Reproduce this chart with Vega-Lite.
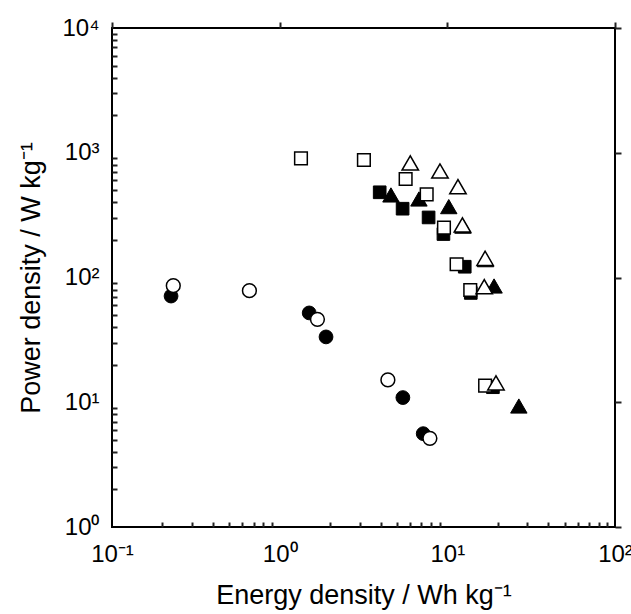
{
  "$schema": "https://vega.github.io/schema/vega-lite/v6.json",
  "width": 503,
  "height": 499,
  "autosize": "none",
  "padding": {"left": 112, "top": 28, "right": 16, "bottom": 87},
  "background": "white",
  "config": {
    "view": {"stroke": "black", "strokeWidth": 2},
    "font": "Liberation Sans",
    "axis": {
      "grid": false,
      "domain": false,
      "labelColor": "black",
      "labelFont": "Liberation Sans",
      "labelFontSize": 24,
      "labelOverlap": false,
      "labelFlush": false,
      "labelBound": false,
      "titleColor": "black",
      "titleFont": "Liberation Sans",
      "titleFontSize": 27,
      "titleFontWeight": "normal"
    }
  },
  "data": {
    "values": [
      {"series": "S1", "energy": 0.225, "power": 71},
      {"series": "S1", "energy": 1.50, "power": 52},
      {"series": "S1", "energy": 1.89, "power": 33.4},
      {"series": "S1", "energy": 5.43, "power": 10.9},
      {"series": "S1", "energy": 7.18, "power": 5.6},
      {"series": "S2", "energy": 0.232, "power": 86},
      {"series": "S2", "energy": 0.66, "power": 78.4},
      {"series": "S2", "energy": 1.68, "power": 46.2},
      {"series": "S2", "energy": 4.42, "power": 15.1},
      {"series": "S2", "energy": 7.87, "power": 5.14},
      {"series": "S3", "energy": 3.95, "power": 482},
      {"series": "S3", "energy": 5.41, "power": 356},
      {"series": "S3", "energy": 7.73, "power": 303},
      {"series": "S3", "energy": 9.48, "power": 223},
      {"series": "S3", "energy": 12.7, "power": 122},
      {"series": "S3", "energy": 13.8, "power": 75.2},
      {"series": "S3", "energy": 18.7, "power": 13.2},
      {"series": "S4", "energy": 1.34, "power": 902},
      {"series": "S4", "energy": 3.18, "power": 875},
      {"series": "S4", "energy": 5.64, "power": 616},
      {"series": "S4", "energy": 7.53, "power": 464},
      {"series": "S4", "energy": 9.55, "power": 251},
      {"series": "S4", "energy": 11.36, "power": 127.6},
      {"series": "S4", "energy": 13.7, "power": 79.4},
      {"series": "S4", "energy": 16.8, "power": 13.6},
      {"series": "S5", "energy": 4.61, "power": 459},
      {"series": "S5", "energy": 6.77, "power": 426},
      {"series": "S5", "energy": 10.2, "power": 370},
      {"series": "S5", "energy": 12.4, "power": 258},
      {"series": "S5", "energy": 16.9, "power": 139},
      {"series": "S5", "energy": 19.0, "power": 85.5},
      {"series": "S5", "energy": 26.7, "power": 9.33},
      {"series": "S6", "energy": 6.01, "power": 828},
      {"series": "S6", "energy": 9.04, "power": 714},
      {"series": "S6", "energy": 11.57, "power": 535},
      {"series": "S6", "energy": 12.3, "power": 264},
      {"series": "S6", "energy": 16.8, "power": 142.6},
      {"series": "S6", "energy": 16.6, "power": 84.4},
      {"series": "S6", "energy": 19.5, "power": 14.3}
    ]
  },
  "layer": [
    {
      "transform": [{"filter": "datum.series === 'S3'"}],
      "mark": {"type": "point", "shape": "square", "filled": true, "fill": "black", "stroke": "black", "strokeWidth": 1, "size": 160, "opacity": 1},
      "encoding": {
        "x": {
          "field": "energy", "type": "quantitative",
          "scale": {"type": "log", "domain": [0.1, 100], "nice": false},
          "axis": {
            "orient": "bottom",
            "values": [0.1, 1, 10, 100],
            "labelExpr": "datum.value === 0.1 ? '10⁻¹' : datum.value === 1 ? '10⁰' : datum.value === 10 ? '10¹' : '10²'",
            "ticks": false,
            "labelPadding": 15,
            "title": "Energy density / Wh kg⁻¹",
            "titlePadding": 16
          }
        },
        "y": {
          "field": "power", "type": "quantitative",
          "scale": {"type": "log", "domain": [1, 10000], "nice": false},
          "axis": {
            "orient": "left",
            "values": [1, 10, 100, 1000, 10000],
            "labelExpr": "datum.value === 1 ? '10⁰' : datum.value === 10 ? '10¹' : datum.value === 100 ? '10²' : datum.value === 1000 ? '10³' : '10⁴'",
            "ticks": false,
            "labelPadding": 13,
            "title": "Power density / W kg⁻¹",
            "titlePadding": 16
          }
        }
      }
    },
    {
      "transform": [{"filter": "datum.series === 'S5'"}],
      "mark": {"type": "point", "shape": "triangle-up", "filled": true, "fill": "black", "stroke": "black", "strokeWidth": 1, "size": 270, "opacity": 1},
      "encoding": {
        "x": {
          "field": "energy", "type": "quantitative",
          "axis": {"orient": "top", "values": [0.1, 1, 10, 100], "labels": false, "title": null, "ticks": true, "tickSize": 6, "tickColor": "#222222", "tickWidth": 2}
        },
        "y": {
          "field": "power", "type": "quantitative",
          "axis": {"orient": "right", "values": [1, 10, 100, 1000, 10000], "labels": false, "title": null, "ticks": true, "tickSize": 6, "tickColor": "#222222", "tickWidth": 2}
        }
      }
    },
    {
      "transform": [{"filter": "datum.series === 'S1'"}],
      "mark": {"type": "point", "shape": "circle", "filled": true, "fill": "black", "stroke": "black", "strokeWidth": 1, "size": 190, "opacity": 1},
      "encoding": {
        "x": {
          "field": "energy", "type": "quantitative",
          "axis": {"orient": "top", "offset": -499, "values": [0.2,0.3,0.4,0.5,0.6,0.7,0.8,0.9,2,3,4,5,6,7,8,9,20,30,40,50,60,70,80,90], "labels": false, "title": null, "ticks": true, "tickSize": 5, "tickColor": "#222222", "tickWidth": 2}
        },
        "y": {
          "field": "power", "type": "quantitative",
          "axis": {"orient": "right", "offset": -503, "values": [2,3,4,5,6,7,8,9,20,30,40,50,60,70,80,90,200,300,400,500,600,700,800,900,2000,3000,4000,5000,6000,7000,8000,9000], "labels": false, "title": null, "ticks": true, "tickSize": 5, "tickColor": "#222222", "tickWidth": 2}
        }
      }
    },
    {
      "transform": [{"filter": "datum.series === 'S4'"}],
      "mark": {"type": "point", "shape": "square", "filled": true, "fill": "white", "stroke": "black", "strokeWidth": 1.5, "size": 160, "opacity": 1},
      "encoding": {
        "x": {"field": "energy", "type": "quantitative", "axis": null},
        "y": {"field": "power", "type": "quantitative", "axis": null}
      }
    },
    {
      "transform": [{"filter": "datum.series === 'S2'"}],
      "mark": {"type": "point", "shape": "circle", "filled": true, "fill": "white", "stroke": "black", "strokeWidth": 1.5, "size": 190, "opacity": 1},
      "encoding": {
        "x": {"field": "energy", "type": "quantitative", "axis": null},
        "y": {"field": "power", "type": "quantitative", "axis": null}
      }
    },
    {
      "transform": [{"filter": "datum.series === 'S6'"}],
      "mark": {"type": "point", "shape": "triangle-up", "filled": true, "fill": "white", "stroke": "black", "strokeWidth": 1.5, "size": 270, "opacity": 1},
      "encoding": {
        "x": {"field": "energy", "type": "quantitative", "axis": null},
        "y": {"field": "power", "type": "quantitative", "axis": null}
      }
    }
  ],
  "resolve": {"axis": {"x": "independent", "y": "independent"}}
}
